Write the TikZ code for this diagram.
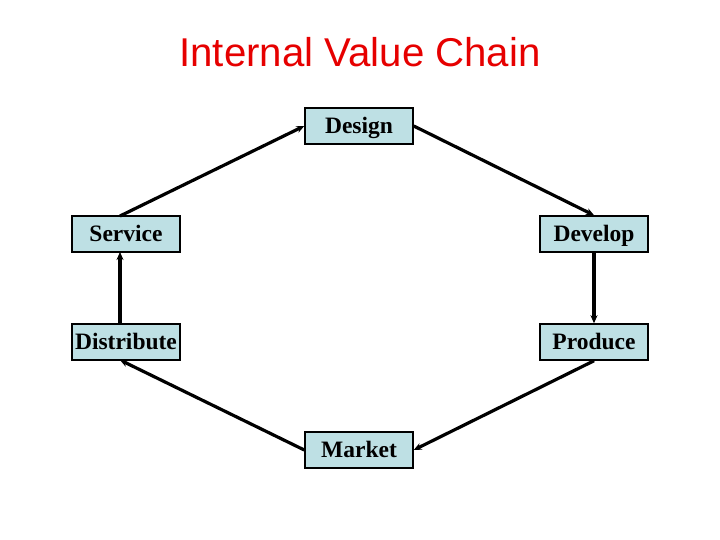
\documentclass[tikz,border=0pt]{standalone}
\usepackage{fontspec}
\setmainfont{Liberation Serif}
\newfontfamily\titlefont{Liberation Sans}
\usetikzlibrary{arrows.meta}
\definecolor{boxfill}{RGB}{190,224,228}
\definecolor{titlered}{RGB}{230,0,0}
\begin{document}
\begin{tikzpicture}[x=1pt,y=1pt,
  stagebox/.style={draw=black, line width=1.5pt, fill=boxfill, minimum width=108pt, minimum height=36pt, inner sep=0pt, text height=16pt, text depth=0pt, font=\bfseries\fontsize{23.5}{25}\selectfont},
  flow/.style={line width=3.2pt, -{Stealth[length=8pt,width=7pt]}}]
\useasboundingbox (0,0) rectangle (720,540);
\node[font=\titlefont\fontsize{40.2}{43}\selectfont, text=titlered] (title) at (360,488) {Internal Value Chain};
\node[stagebox] (design) at (359,414) {Design};
\node[stagebox] (service) at (126,306) {Service};
\node[stagebox] (develop) at (594,306) {Develop};
\node[stagebox] (distribute) at (126,198) {Distribute};
\node[stagebox] (produce) at (594,198) {Produce};
\node[stagebox] (market) at (359,90) {Market};
\coordinate (svtop) at (120,324);
\coordinate (svbot) at (120,288);
\coordinate (dttop) at (120,216);
\coordinate (dtbot) at (120,180);
\draw[flow] (svtop) -- (design.west);
\draw[flow] (design.east) -- (develop.north);
\draw[flow] (develop.south) -- (produce.north);
\draw[flow] (produce.south) -- (market.east);
\draw[flow] (market.west) -- (dtbot);
\draw[flow] (dttop) -- (svbot);
\end{tikzpicture}
\end{document}
